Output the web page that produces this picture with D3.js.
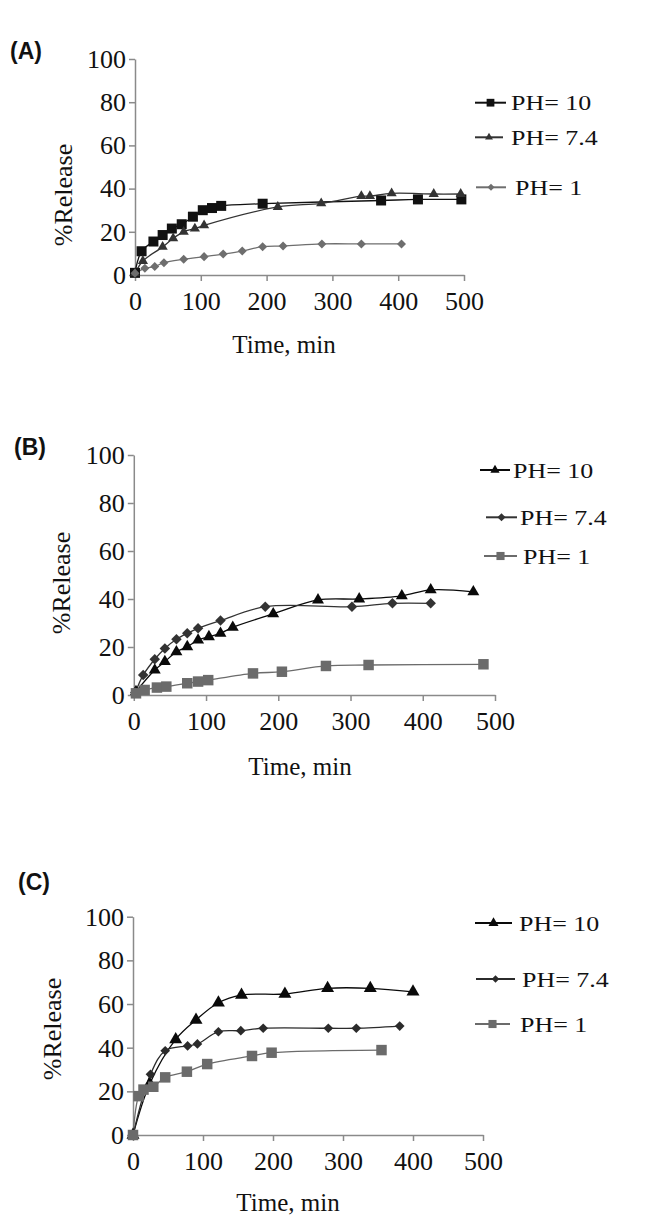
<!DOCTYPE html>
<html><head><meta charset="utf-8">
<script src="https://cdn.jsdelivr.net/npm/d3@7"></script>
<style>body{margin:0;background:#fff}svg{display:block}</style>
</head><body>
<svg id="c" width="657" height="1222"></svg>
<script>
// ---- data (time in min, % release) ----
const xTicks = [0, 100, 200, 300, 400, 500];
const yTicks = [0, 20, 40, 60, 80, 100];
const legendLabels = ["PH= 10", "PH= 7.4", "PH= 1"];
const panelLabels = ["(A)", "(B)", "(C)"];
const xTitle = "Time, min";
const yTitle = "%Release";

const A_pH10 = [[0,1],[10,11],[28,15.5],[42,18.5],[56,21.5],[71,23.5],[88,27],[103,30],[117,31],[131,32],[194,33],[374,34.5],[430,35],[496,35]];
const A_pH74 = [[0,0.8],[12,6.5],[42,13],[58,17],[74,20],[91,21.5],[105,23],[217,31.5],[283,33.2],[344,36.5],[357,36.5],[390,37.8],[454,37.5],[495,37.5]];
const A_pH1  = [[0,0.8],[15,3.1],[30,3.9],[44,5.7],[74,7.3],[105,8.5],[134,9.7],[163,11.1],[194,13.1],[225,13.4],[284,14.4],[344,14.4],[405,14.4]];

const B_pH10 = [[3,1.4],[29,10.4],[43,13.9],[59,18],[74,20.1],[89,22.9],[104,24.3],[120,25.7],[137,28.2],[193,33.8],[255,39.6],[312,40],[371,41.3],[411,43.8],[470,43]];
const B_pH74 = [[2,1],[13,8.3],[29,14.9],[43,19.4],[59,23.2],[74,25.7],[89,27.8],[120,31],[182,36.8],[302,36.8],[358,38.2],[411,38.2]];
const B_pH1  = [[3,0.7],[15,2.1],[32,3.1],[45,3.5],[74,4.9],[89,5.6],[103,6.2],[165,9],[205,9.7],[266,12.1],[325,12.5],[484,12.8]];

const C_pH10 = [[0,0],[24,23.5],[61,43.8],[90,52.7],[122,60.6],[155,64.1],[217,64.6],[278,67.2],[339,67.2],[400,65.6]];
const C_pH74 = [[0,0],[25,27.8],[46,38.6],[78,40.8],[92,41.7],[122,47.3],[154,47.8],[186,48.9],[279,48.9],[319,48.9],[381,49.9]];
const C_pH1  = [[0,0],[8,17.8],[15,20.8],[29,22.1],[46,26.4],[77,29],[106,32.5],[170,36.2],[198,37.7],[355,38.9]];

// ---- layout / style ----
const serif = "Liberation Serif, Times New Roman, serif";
const panels = [
  { label: panelLabels[0], lab: [10, 59], x: [135, 464], y: [275, 59], yTitle: [72, 195], xTitle: [284, 353],
    series: [
      { data: A_pH10, shape: d3.symbolSquare, size: 100, color: "#111", name: legendLabels[0], leg: [475, 506, 102.7, 511] },
      { data: A_pH74, shape: d3.symbolTriangle, size: 45, color: "#333", name: legendLabels[1], leg: [475, 503, 137.3, 511] },
      { data: A_pH1,  shape: d3.symbolDiamond2, size: 52, color: "#6e6e6e", name: legendLabels[2], leg: [476, 506, 187.3, 515] }
    ] },
  { label: panelLabels[1], lab: [14, 455], x: [133.8, 495], y: [695, 455], yTitle: [70, 583], xTitle: [300, 775],
    series: [
      { data: B_pH10, shape: d3.symbolTriangle, size: 62, color: "#0a0a0a", name: legendLabels[0], leg: [480, 510, 470, 513] },
      { data: B_pH74, shape: d3.symbolDiamond2, size: 70, color: "#333", name: legendLabels[1], leg: [486, 517, 517.3, 520] },
      { data: B_pH1,  shape: d3.symbolSquare, size: 110, color: "#6b6b6b", name: legendLabels[2], leg: [484, 517, 556, 523] }
    ] },
  { label: panelLabels[2], lab: [18, 890], x: [133, 483], y: [1135, 916.7], yTitle: [61, 1029], xTitle: [288, 1211],
    series: [
      { data: C_pH10, shape: d3.symbolTriangle, size: 73, color: "#0a0a0a", name: legendLabels[0], leg: [475, 512, 923, 519] },
      { data: C_pH74, shape: d3.symbolDiamond2, size: 60, color: "#2b2b2b", name: legendLabels[1], leg: [476, 515, 979, 522] },
      { data: C_pH1,  shape: d3.symbolSquare, size: 110, color: "#6b6b6b", name: legendLabels[2], leg: [475, 510, 1024, 520] }
    ] }
];

const svg = d3.select("#c");

panels.forEach(p => {
  const g = svg.append("g");
  const x = d3.scaleLinear().domain([0, 500]).range(p.x);
  const y = d3.scaleLinear().domain([0, 100]).range(p.y);

  // panel label
  g.append("text").attr("x", p.lab[0]).attr("y", p.lab[1])
    .attr("font-family", "Liberation Sans, Arial, sans-serif").attr("font-weight", "bold")
    .attr("font-size", 23).attr("fill", "#111").text(p.label);

  // axes
  const ax = g.append("g").attr("transform", `translate(0,${p.y[0]})`)
    .call(d3.axisBottom(x).tickValues(xTicks).tickSize(6).tickSizeOuter(0).tickPadding(11));
  const ay = g.append("g").attr("transform", `translate(${p.x[0]},0)`)
    .call(d3.axisLeft(y).tickValues(yTicks).tickSize(6).tickSizeOuter(0).tickPadding(3));
  [ax, ay].forEach(a => {
    a.attr("font-family", serif).attr("font-size", 26);
    a.select(".domain").attr("stroke", "#8a8a8a").attr("stroke-width", 1.5);
    a.selectAll(".tick line").attr("stroke", "#8a8a8a").attr("stroke-width", 1.5);
    a.selectAll(".tick text").attr("font-family", serif).attr("font-size", 26).attr("fill", "#111");
  });

  // titles
  g.append("text").attr("transform", `translate(${p.yTitle[0]},${p.yTitle[1]}) rotate(-90)`)
    .attr("text-anchor", "middle").attr("font-family", serif).attr("font-size", 26).attr("fill", "#111").text(yTitle);
  g.append("text").attr("x", p.xTitle[0]).attr("y", p.xTitle[1])
    .attr("text-anchor", "middle").attr("font-family", serif).attr("font-size", 25).attr("fill", "#111").text(xTitle);

  const line = d3.line().x(d => x(d[0])).y(d => y(d[1])).curve(d3.curveCatmullRom.alpha(0.5));

  p.series.forEach(s => {
    g.append("path").datum(s.data).attr("d", line).attr("fill", "none")
      .attr("stroke", s.color).attr("stroke-width", 1.3);
  });
  p.series.forEach(s => {
    const sym = d3.symbol().type(s.shape).size(s.size);
    g.append("g").selectAll("path").data(s.data).join("path")
      .attr("transform", d => `translate(${x(d[0])},${y(d[1])})`)
      .attr("d", sym).attr("fill", s.color);
    // legend
    const [lx1, lx2, ly, tx] = s.leg;
    g.append("line").attr("x1", lx1).attr("x2", lx2).attr("y1", ly).attr("y2", ly)
      .attr("stroke", s.color).attr("stroke-width", 2);
    g.append("path").attr("transform", `translate(${(lx1 + lx2) / 2},${ly})`)
      .attr("d", d3.symbol().type(s.shape).size(s.size * 0.6)).attr("fill", s.color);
    g.append("text").attr("transform", `translate(${tx},${ly + 7.5}) scale(1.18,1)`)
      .attr("font-family", serif).attr("font-size", 22).attr("fill", "#111").text(s.name);
  });
});
</script>
</body></html>
